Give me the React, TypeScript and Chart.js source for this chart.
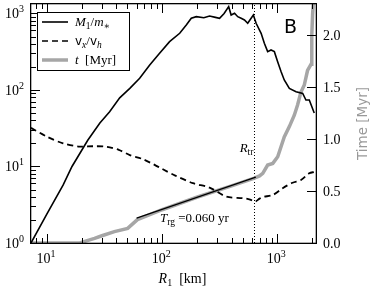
import { useEffect, useRef } from 'react';
import { Chart, registerables } from 'chart.js';

Chart.register(...registerables);

// M1/m* (left log axis)
const mRatioR = [7.27, 10, 13.8, 16.5, 22.6, 28.8, 35, 42.8, 52.4, 63.8, 78, 95, 116, 142, 162, 179, 198, 230, 258, 290, 315, 345, 378, 397, 425, 453, 485, 518, 553, 592, 619, 654, 723, 771, 824, 881, 942, 1006, 1076, 1148, 1271, 1453, 1660, 1770, 1893, 2090];
const mRatio = [1, 2.4, 5.7, 10, 22, 37, 52, 79, 105, 142, 212, 302, 428, 551, 707, 865, 908, 880, 927, 890, 865, 1000, 1227, 955, 1006, 908, 865, 822, 745, 865, 955, 745, 551, 408, 317, 333, 317, 234, 174, 135, 105, 95, 90, 74, 74, 50];

// vx/vh (left log axis)
const velR = [7.27, 10, 13.8, 19.3, 25, 33, 42, 52.4, 67.8, 86, 100, 130, 185, 258, 360, 502, 580, 640, 700, 750, 913, 1112, 1355, 1604, 1893, 2100];
const velRatio = [32, 24.5, 20.1, 18.2, 18.4, 18.1, 16.5, 14.1, 12.5, 10.5, 9.3, 7.6, 6.05, 5.3, 4.05, 3.85, 3.7, 3.47, 3.8, 4.0, 4.24, 5.2, 6.14, 6.66, 8.15, 8.5];

// t [Myr] (right linear axis)
const timeR = [7.27, 19.3, 22, 25.9, 30, 38.5, 50.2, 61, 100, 200, 400, 632, 700, 747, 824, 913, 1007, 1076, 1148, 1271, 1403, 1500, 1600, 1713, 1828, 1961, 1990, 2023, 2060];
const timeMyr = [0, 0, 0.02, 0.045, 0.07, 0.109, 0.141, 0.225, 0.32, 0.44, 0.55, 0.625, 0.645, 0.67, 0.75, 0.766, 0.83, 0.926, 1.02, 1.12, 1.23, 1.33, 1.45, 1.52, 1.66, 1.72, 2.0, 2.2, 2.34];

// T_rg reference line (right axis)
const trgR = [60, 650];
const trgMyr = [0.24, 0.635];

const rTr = 632;

const xMajor = [10, 100, 1000];
const xMajorExp = ['1', '2', '3'];
const yMajor = [1, 10, 100, 1000];
const yMajorExp = ['0', '1', '2', '3'];
const timeTicks = [0, 0.5, 1, 1.5, 2];
const timeTickLabels = ['0.0', '0.5', '1.0', '1.5', '2.0'];

const SERIF = '"Liberation Serif", "DejaVu Serif", serif';
const SANS = '"DejaVu Sans", sans-serif';

type Run = { t: string; f: string; dy?: number };

function runsWidth(ctx: CanvasRenderingContext2D, runs: Run[]) {
  let w = 0;
  for (const r of runs) {
    ctx.font = r.f;
    w += ctx.measureText(r.t).width;
  }
  return w;
}

function drawRuns(ctx: CanvasRenderingContext2D, runs: Run[], x: number, y: number) {
  let cx = x;
  ctx.textBaseline = 'alphabetic';
  ctx.textAlign = 'left';
  for (const r of runs) {
    ctx.font = r.f;
    ctx.fillText(r.t, cx, y + (r.dy || 0));
    cx += ctx.measureText(r.t).width;
  }
}

function logMinors(min: number, max: number) {
  const out: number[] = [];
  const e0 = Math.floor(Math.log10(min));
  const e1 = Math.ceil(Math.log10(max));
  for (let e = e0; e <= e1; e++) {
    for (let k = 2; k <= 9; k++) {
      const v = k * Math.pow(10, e);
      if (v > min && v < max) out.push(v);
    }
  }
  return out;
}

const decorPlugin = {
  id: 'decor',
  beforeDatasetsDraw(chart: any) {
    const { ctx, chartArea: a, scales } = chart;
    const px = Math.round(scales.x.getPixelForValue(rTr));
    ctx.save();
    ctx.fillStyle = '#000';
    for (let y = a.top + 1; y < a.bottom; y += 3) {
      ctx.fillRect(px, y, 1, 1);
    }
    ctx.restore();
  },
  afterDraw(chart: any) {
    const { ctx, chartArea: a, scales } = chart;
    const sx = scales.x, sy = scales.y, st = scales.y1;
    const L = Math.round(a.left), R = Math.round(a.right), T = Math.round(a.top), B = Math.round(a.bottom);
    ctx.save();
    ctx.fillStyle = '#000';
    // frame
    ctx.fillRect(L - 1, T - 1, R - L + 2, 1.3);
    ctx.fillRect(L - 1, B - 0.3, R - L + 2, 1.3);
    ctx.fillRect(L - 1, T - 1, 1.3, B - T + 2);
    ctx.fillRect(R - 0.3, T - 1, 1.3, B - T + 2);

    // x ticks, bottom and top
    for (const v of xMajor) {
      const p = Math.round(sx.getPixelForValue(v));
      ctx.fillRect(p, B - 9, 1, 9);
      ctx.fillRect(p, T, 1, 9);
    }
    for (const v of logMinors(sx.min, sx.max)) {
      const p = Math.round(sx.getPixelForValue(v));
      ctx.fillRect(p, B - 5, 1, 5);
      ctx.fillRect(p, T, 1, 5);
    }
    // y ticks left
    for (const v of yMajor) {
      const p = Math.round(sy.getPixelForValue(v));
      ctx.fillRect(L, p, 9, 1);
    }
    for (const v of logMinors(sy.min, sy.max)) {
      const p = Math.round(sy.getPixelForValue(v));
      ctx.fillRect(L, p, 5, 1);
    }
    // right ticks
    for (const v of timeTicks) {
      const p = Math.round(st.getPixelForValue(v));
      ctx.fillRect(R - 9, p, 9, 1);
    }

    // tick labels
    const big = `14px ${SERIF}`;
    const sup = `10px ${SERIF}`;
    xMajor.forEach((v, i) => {
      const runs: Run[] = [{ t: '10', f: big }, { t: xMajorExp[i], f: sup, dy: -6 }];
      const w = runsWidth(ctx, runs);
      const p = sx.getPixelForValue(v);
      drawRuns(ctx, runs, p - w / 2 - 1, B + 20);
    });
    yMajor.forEach((v, i) => {
      const runs: Run[] = [{ t: '10', f: big }, { t: yMajorExp[i], f: sup, dy: -6 }];
      const w = runsWidth(ctx, runs);
      const p = sy.getPixelForValue(v);
      drawRuns(ctx, runs, L - 7 - w, p + 5);
    });
    timeTicks.forEach((v, i) => {
      const p = st.getPixelForValue(v);
      drawRuns(ctx, [{ t: timeTickLabels[i], f: big }], R + 7, p + 5);
    });

    // x title
    {
      const runs: Run[] = [
        { t: 'R', f: `italic 14px ${SERIF}` },
        { t: '1', f: `10px ${SERIF}`, dy: 3 },
        { t: '  [km]', f: `14px ${SERIF}` },
      ];
      const w = runsWidth(ctx, runs);
      drawRuns(ctx, runs, (L + R) / 2 + 9 - w / 2, 283);
    }
    // right title
    ctx.save();
    ctx.translate(363, (T + B) / 2);
    ctx.rotate(-Math.PI / 2);
    ctx.fillStyle = '#999999';
    ctx.font = `13.5px ${SANS}`;
    ctx.textAlign = 'center';
    ctx.textBaseline = 'middle';
    ctx.fillText('Time [Myr]', 0, 0);
    ctx.restore();

    // panel letter
    ctx.fillStyle = '#000';
    ctx.font = `19px ${SANS}`;
    ctx.textAlign = 'left';
    ctx.textBaseline = 'alphabetic';
    ctx.fillText('B', 284, 33);

    // R_tr
    {
      const runs: Run[] = [
        { t: 'R', f: `italic 13px ${SERIF}` },
        { t: 'tr', f: `9.5px ${SERIF}`, dy: 3 },
      ];
      const w = runsWidth(ctx, runs);
      const p = sx.getPixelForValue(rTr);
      drawRuns(ctx, runs, p - 1 - w, 152);
    }
    // T_rg
    drawRuns(ctx, [
      { t: 'T', f: `italic 13px ${SERIF}` },
      { t: 'rg', f: `9.5px ${SERIF}`, dy: 3 },
      { t: ' =0.060 yr', f: `13px ${SERIF}` },
    ], 160, 222);

    // legend
    const lx = 37, ly = 12, lw = 92, lh = 58;
    ctx.fillStyle = '#fff';
    ctx.fillRect(lx, ly, lw, lh);
    ctx.fillStyle = '#000';
    ctx.fillRect(lx, ly, lw + 1, 1);
    ctx.fillRect(lx, ly + lh, lw + 1, 1);
    ctx.fillRect(lx, ly, 1, lh + 1);
    ctx.fillRect(lx + lw, ly, 1, lh + 1);
    const rows = [22, 41, 60];
    const drawSample = (y: number, color: string, width: number, dash: number[]) => {
      ctx.save();
      ctx.strokeStyle = color;
      ctx.lineWidth = width;
      ctx.setLineDash(dash);
      ctx.beginPath();
      ctx.moveTo(42, y);
      ctx.lineTo(68, y);
      ctx.stroke();
      ctx.restore();
    };
    drawSample(rows[0], '#000', 1.6, []);
    drawSample(rows[1], '#000', 1.6, [6, 4]);
    drawSample(rows[2], '#a6a6a6', 3.5, []);
    ctx.fillStyle = '#000';
    drawRuns(ctx, [
      { t: 'M', f: `italic 13px ${SERIF}` },
      { t: '1', f: `9.5px ${SERIF}`, dy: 3 },
      { t: '/', f: `13px ${SERIF}` },
      { t: 'm', f: `italic 13px ${SERIF}` },
      { t: '\u2217', f: `9.5px ${SERIF}`, dy: 3 },
    ], 75, rows[0] + 4);
    drawRuns(ctx, [
      { t: 'v', f: `12px ${SANS}` },
      { t: 'x', f: `italic 9.5px ${SERIF}`, dy: 3 },
      { t: '/', f: `13px ${SERIF}` },
      { t: 'v', f: `12px ${SANS}` },
      { t: 'h', f: `italic 9.5px ${SERIF}`, dy: 3 },
    ], 75, rows[1] + 4);
    drawRuns(ctx, [
      { t: 't', f: `italic 13px ${SERIF}` },
      { t: '  [Myr]', f: `13px ${SERIF}` },
    ], 75, rows[2] + 4);

    ctx.restore();
  },
};

export default function App() {
  const ref = useRef<HTMLCanvasElement | null>(null);
  useEffect(() => {
    if (!ref.current) return;
    const pts = (xs: number[], ys: number[]) => xs.map((x, i) => ({ x, y: ys[i] }));
    const chart = new Chart(ref.current, {
      type: 'scatter',
      data: {
        datasets: [
          {
            label: 'M1/m*', data: pts(mRatioR, mRatio), yAxisID: 'y', showLine: true,
            borderColor: '#000', borderWidth: 1.6, pointRadius: 0, order: 1,
          },
          {
            label: 'vx/vh', data: pts(velR, velRatio), yAxisID: 'y', showLine: true,
            borderColor: '#000', borderWidth: 1.8, borderDash: [6, 4], pointRadius: 0, order: 2,
            tension: 0.3,
          },
          {
            label: 'Trg', data: pts(trgR, trgMyr), yAxisID: 'y1', showLine: true,
            borderColor: '#000', borderWidth: 1.3, pointRadius: 0, order: 3,
          },
          {
            label: 't [Myr]', data: pts(timeR, timeMyr), yAxisID: 'y1', showLine: true,
            borderColor: '#a6a6a6', borderWidth: 3.5, pointRadius: 0, order: 4,
          },
        ],
      },
      options: {
        animation: false,
        responsive: false,
        maintainAspectRatio: false,
        layout: { padding: { top: 4, left: 0, right: 0, bottom: 0 } },
        plugins: { legend: { display: false }, tooltip: { enabled: false } },
        scales: {
          x: {
            type: 'logarithmic', min: 7.27, max: 2165,
            ticks: { display: false }, grid: { display: false }, border: { display: false },
            afterFit: (s: any) => { s.height = 48; },
          },
          y: {
            type: 'logarithmic', position: 'left', min: 1, max: 1330,
            ticks: { display: false }, grid: { display: false }, border: { display: false },
            afterFit: (s: any) => { s.width = 31; },
          },
          y1: {
            type: 'linear', position: 'right', min: 0, max: 2.3,
            ticks: { display: false }, grid: { display: false }, border: { display: false },
            afterFit: (s: any) => { s.width = 58; },
          },
        },
      },
      plugins: [decorPlugin],
    });
    return () => chart.destroy();
  }, []);
  return (
    <div style={{ position: 'fixed', left: 0, top: 0, width: 374, height: 291, background: '#fff' }}>
      <canvas ref={ref} width={374} height={291} style={{ width: 374, height: 291 }} />
    </div>
  );
}
